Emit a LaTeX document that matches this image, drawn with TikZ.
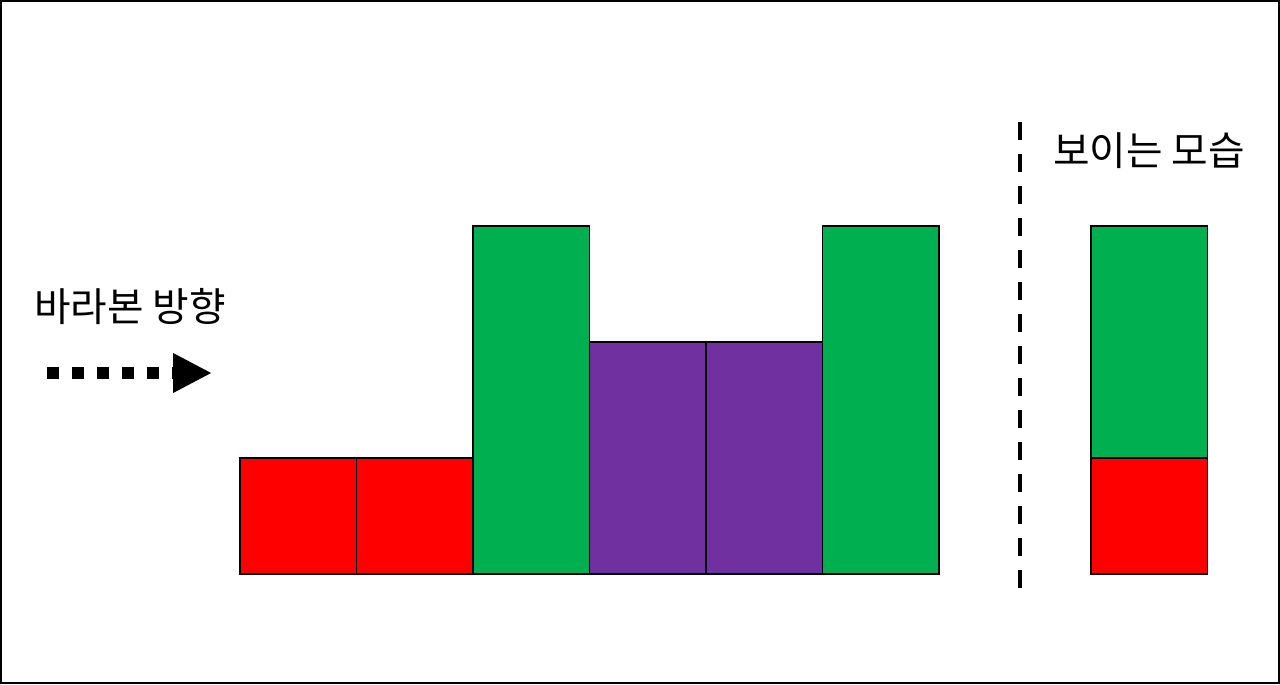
\documentclass[tikz,border=0pt]{standalone}
\usepackage{fontspec}
\setmainfont{Noto Sans CJK KR}
\usetikzlibrary{positioning}
\usetikzlibrary{arrows.meta}
\definecolor{barred}{HTML}{FF0000}
\definecolor{bargreen}{HTML}{00B050}
\definecolor{barpurple}{HTML}{7030A0}
\tikzstyle{cell}    = [rectangle, draw, line width=0.8pt, inner sep=0pt,
                       outer sep=0pt, minimum width=2.33cm]
\tikzstyle{low}     = [cell, minimum height=2.32cm]
\tikzstyle{mid}     = [cell, minimum height=4.64cm]
\tikzstyle{high}    = [cell, minimum height=6.96cm]
\tikzstyle{heading} = [inner sep=0pt, font=\fontsize{22.6}{26}\selectfont]
\tikzstyle{lookarrow} = [line width=0.24cm, dash pattern=on 0.24cm off 0.26cm,
                         -{Triangle[length=0.78cm, width=0.74cm]}]
\tikzstyle{cutline} = [line width=0.08cm, dash pattern=on 0.36cm off 0.28cm]
\begin{document}
\begin{tikzpicture}[x=0.02cm, y=-0.02cm]
\useasboundingbox (0,0) rectangle (1280,684);
\draw [line width=1.1pt] (1,1) rectangle (1279,683);
% blocks seen from the left
\node (red one) [low, fill=barred, anchor=south west] at (240,574) {};
\node (red two) [low, fill=barred, right=0cm of red one] {};
\node (green one) [high, fill=bargreen, anchor=south west] at (red two.south east) {};
\node (purple one) [mid, fill=barpurple, anchor=south west] at (green one.south east) {};
\node (purple two) [mid, fill=barpurple, right=0cm of purple one] {};
\node (green two) [high, fill=bargreen, anchor=south west] at (purple two.south east) {};
% what is visible
\node (view green) [mid, fill=bargreen, anchor=south west] at (1091,458) {};
\node (view red) [low, fill=barred, below=0cm of view green] {};
\node (look title) [heading] at (130,306) {바라본 방향};
\node (view title) [heading] at (1149,151) {보이는 모습};
\coordinate (look start) at (47,373);
\coordinate (look end) at (212,373);
\draw [lookarrow] (look start) -- (look end);
\coordinate (cut top) at (1020,122);
\coordinate (cut bottom) at (1020,590);
\draw [cutline] (cut top) -- (cut bottom);
\end{tikzpicture}
\end{document}
